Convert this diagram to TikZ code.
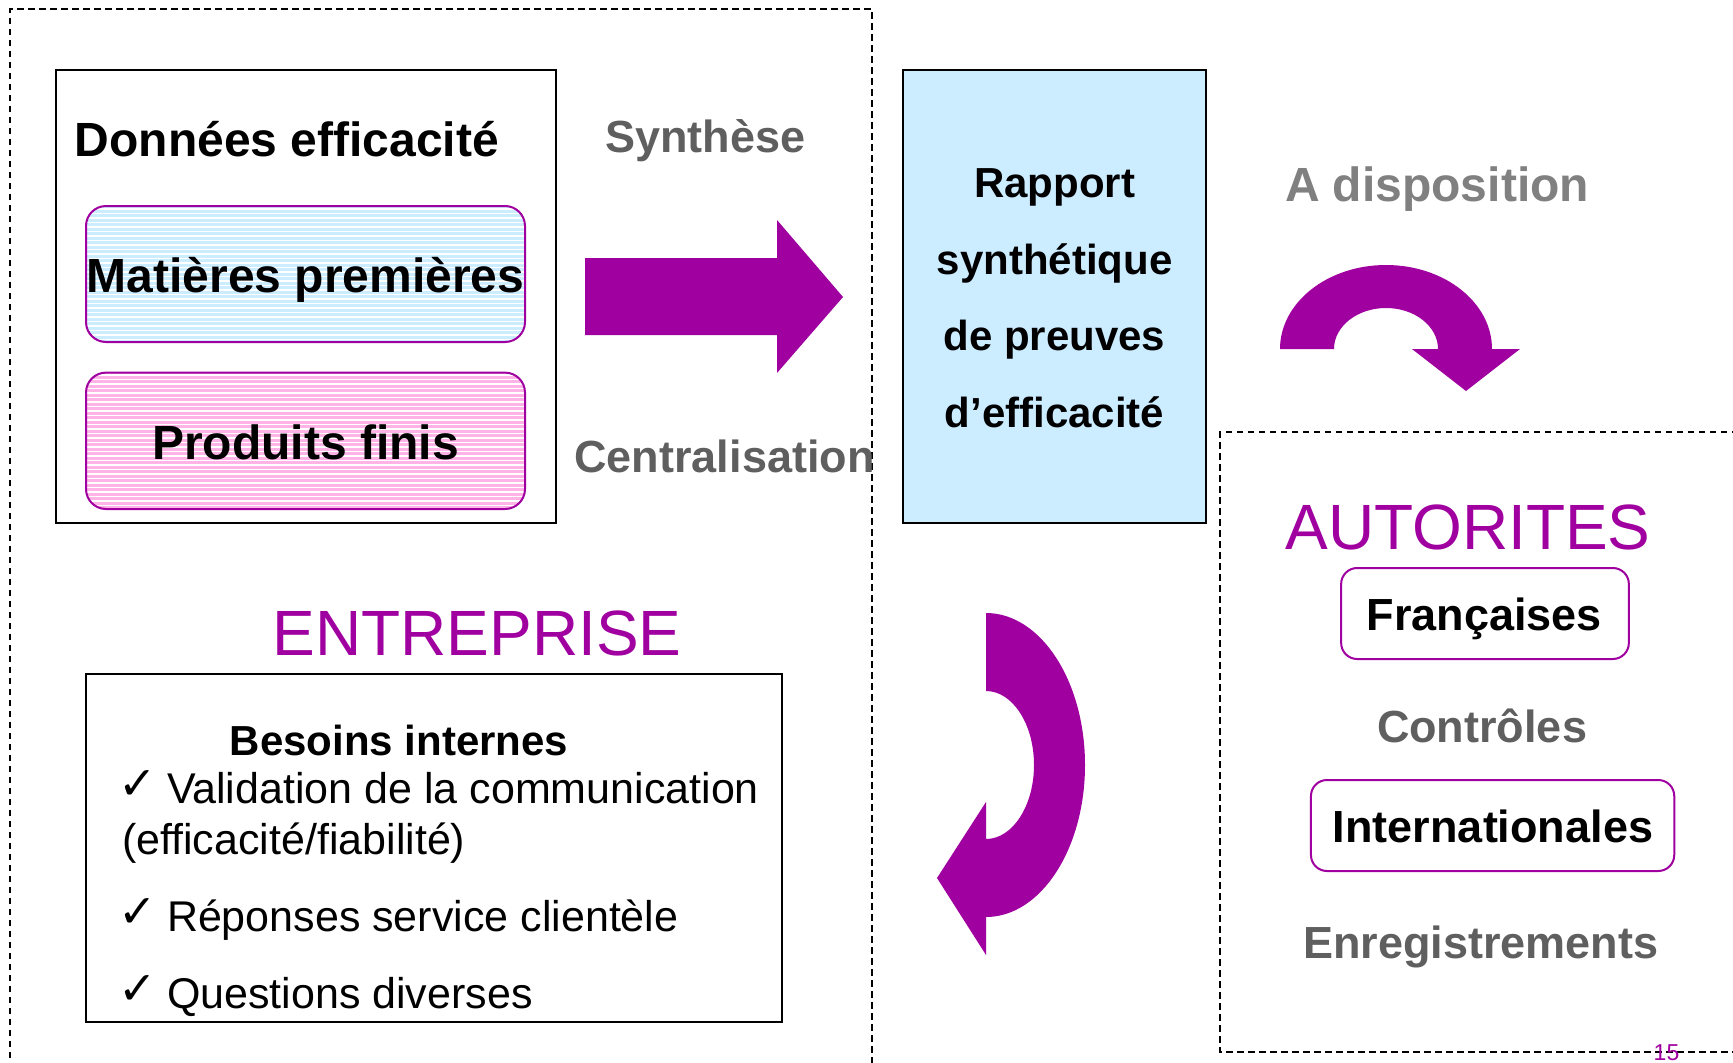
\documentclass[tikz,border=0pt]{standalone}
\usepackage{fontspec}
\setmainfont{Liberation Sans}
\newfontfamily\checkfont{DejaVu Sans}
\definecolor{purp}{HTML}{A000A0}
\definecolor{lblue}{HTML}{CCECFF}
\definecolor{lpink}{HTML}{FFB3E6}
\definecolor{dgray}{HTML}{5F5F5F}
\definecolor{mgray}{HTML}{808080}
\tikzset{
  lbl/.style={inner sep=0pt, outer sep=0pt, anchor=base},
  bigbold/.style={lbl, font=\fontsize{48}{56}\selectfont\bfseries},
  midbold/.style={lbl, font=\fontsize{45}{52}\selectfont\bfseries},
  smallbold/.style={lbl, font=\fontsize{42}{50}\selectfont\bfseries},
  plain/.style={lbl, font=\fontsize{43}{50}\selectfont},
  title/.style={lbl, font=\fontsize{64}{72}\selectfont, text=purp},
  checkmk/.style={lbl, anchor=base west, font=\checkfont\fontsize{46}{50}\selectfont},
  dashbox/.style={draw=black, line width=1.5pt, dash pattern=on 6.5pt off 4.5pt},
  blackbox/.style={draw=black, line width=2pt, inner sep=0pt},
  purpbox/.style={draw=purp, line width=2pt, inner sep=0pt, fill=none},
  bigarrow/.style={fill=purp, draw=none},
  hatchline/.style={white, line width=1.2pt},
}
\begin{document}
\begin{tikzpicture}[x=1pt, y=-1pt]
\useasboundingbox (0,0) rectangle (1733,1063);
\clip (0,0) rectangle (1733,1063);
\fill[white] (0,0) rectangle (1733,1063);

% dashed regions
\draw[dashbox] (10,1080) -- (10,9) -- (872,9) -- (872,1080);
\draw[dashbox] (1760,432) -- (1220,432) -- (1220,1052) -- (1760,1052);

% left data box
\node[blackbox, minimum width=500pt, minimum height=453pt] (data) at (306,296.5) {};
\node[bigbold] (datat) at (287,156) {Données efficacité};

% Matieres premieres box (hatched blue)
\begin{scope}
  \clip[rounded corners=20pt] (86,206) rectangle (525,342);
  \fill[lblue] (86,206) rectangle (525,342);
  \foreach \yy in {209,213.5,...,342} \draw[hatchline] (86,\yy) -- (525,\yy);
\end{scope}
\node[purpbox, rounded corners=20pt, minimum width=439pt, minimum height=136pt] (mat) at (305.5,274) {};
\node[bigbold] (matt) at (305.5,292.6) {Matières premières};

% Produits finis box (hatched pink)
\begin{scope}
  \clip[rounded corners=20pt] (86,372.6) rectangle (525,509);
  \fill[lpink] (86,372.6) rectangle (525,509);
  \foreach \yy in {375,379.5,...,509} \draw[hatchline] (86,\yy) -- (525,\yy);
\end{scope}
\node[purpbox, rounded corners=20pt, minimum width=439pt, minimum height=136.4pt] (prod) at (305.5,440.8) {};
\node[bigbold] (prodt) at (305.5,459) {Produits finis};

% labels around the straight arrow
\node[midbold, text=dgray] (synth) at (705.5,152.8) {Synthèse};
\node[midbold, text=dgray] (centr) at (724.5,472) {Centralisation};

% straight arrow
\fill[bigarrow] (585,258) -- (777,258) -- (777,220) -- (843,297) -- (777,373) -- (777,335) -- (585,335) -- cycle;

% Rapport box
\node[blackbox, fill=lblue, minimum width=303pt, minimum height=453.5pt] (rapport) at (1054.5,296.5) {};
\node[smallbold] (r1) at (1054.5,197) {Rapport};
\node[smallbold] (r2) at (1054.5,274) {synthétique};
\node[smallbold] (r3) at (1054.5,350) {de preuves};
\node[smallbold] (r4) at (1054.5,427) {d’efficacité};

% A disposition + curved arrow
\node[bigbold, text=mgray] (dispo) at (1437,201.5) {A disposition};
\fill[bigarrow] (1280,349) arc[start angle=180, end angle=360, x radius=106, y radius=84]
  -- (1520,349) -- (1466,391) -- (1412,349) -- (1438,349)
  arc[start angle=360, end angle=180, x radius=52, y radius=41] -- cycle;

% AUTORITES region
\node[title] (auto) at (1468,549) {AUTORITES};
\node[purpbox, rounded corners=16pt, fill=white, minimum width=287.7pt, minimum height=91pt] (fr) at (1485,613.5) {};
\node[midbold] (frt) at (1484.4,630.7) {Françaises};
\node[midbold, text=dgray] (ctrl) at (1482,742.4) {Contrôles};
\node[purpbox, rounded corners=16pt, fill=white, minimum width=363.3pt, minimum height=91pt] (intl) at (1492.6,825.5) {};
\node[midbold] (intlt) at (1493,842) {Internationales};
\node[midbold, text=dgray] (enreg) at (1480.7,958.5) {Enregistrements};
\node[lbl, text=purp, font=\fontsize{23}{26}\selectfont] (pnum) at (1666.5,1060.5) {15};

% bottom curved arrow
\fill[bigarrow] (986,613) arc[start angle=-90, end angle=90, x radius=99, y radius=152]
  -- (986,955) -- (937,878) -- (986,802) -- (986,839)
  arc[start angle=90, end angle=-90, x radius=48, y radius=74] -- cycle;

% ENTREPRISE
\node[title] (entr) at (477,655) {ENTREPRISE};
\node[blackbox, minimum width=696pt, minimum height=348pt] (besoins) at (433.5,848) {};
\node[smallbold] (bt) at (399,755.5) {Besoins internes};
\node[checkmk] (c1) at (118,799) {✓};
\node[plain, anchor=base west] (l1) at (167,803) {Validation de la communication};
\node[plain, anchor=base west] (l1b) at (122,854) {(efficacité/fiabilité)};
\node[checkmk] (c2) at (118,927) {✓};
\node[plain, anchor=base west] (l2) at (167,931) {Réponses service clientèle};
\node[checkmk] (c3) at (118,1004) {✓};
\node[plain, anchor=base west] (l3) at (167,1008) {Questions diverses};
\end{tikzpicture}
\end{document}
